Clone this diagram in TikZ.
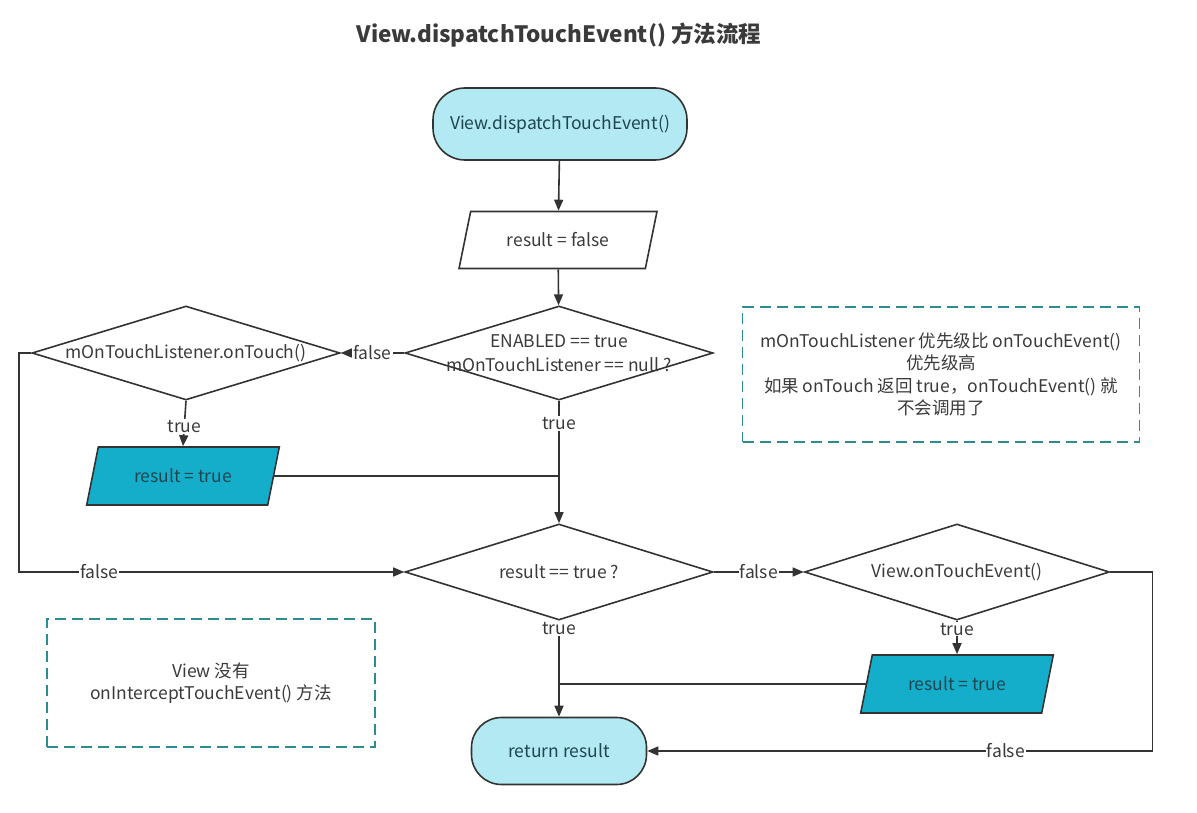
\documentclass[tikz,border=0pt]{standalone}
\usepackage{fontspec}
\setmainfont{Noto Sans CJK SC}
\usetikzlibrary{shapes.geometric,arrows.meta}
\definecolor{lightc}{HTML}{B3E9F2}
\definecolor{darkc}{HTML}{14AECA}
\definecolor{edge}{HTML}{333333}
\definecolor{dashc}{HTML}{2E8B92}
\definecolor{txt}{HTML}{3A3A3A}
\definecolor{ttxt}{HTML}{1E4650}
\begin{document}
\begin{tikzpicture}[x=1pt,y=-1pt,
 font=\fontsize{17.5}{21}\selectfont,
 every node/.style={text=txt},
 term/.style={draw=edge, line width=1.6pt, fill=lightc, rounded corners=32pt, text=ttxt},
 para/.style={trapezium, trapezium stretches=true, trapezium left angle=71, trapezium right angle=109, draw=edge, line width=1.6pt},
 dia/.style={diamond, draw=edge, line width=1.6pt, inner sep=0pt},
 note/.style={draw=dashc, line width=1.6pt, dash pattern=on 11pt off 6pt, align=center, font=\fontsize{17.5}{22.5}\selectfont},
 conn/.style={draw=edge, line width=1.6pt, -{Triangle[length=11pt,width=9pt]}},
 plain/.style={draw=edge, line width=1.6pt},
 lbl/.style={fill=white, inner sep=1pt, text=txt}
]
\useasboundingbox (0,0) rectangle (1197,813);
\node[font=\fontsize{22.5}{26}\selectfont\bfseries] (title) at (559,35) {View.dispatchTouchEvent() 方法流程};

\node[term, minimum width=254pt, minimum height=72pt] (start) at (560,124) {View.dispatchTouchEvent()};
\node[para, minimum width=198pt, minimum height=57pt] (rf) at (558,240) {result = false};
\node[dia, minimum width=308pt, minimum height=94pt,
  label={[align=center, font=\fontsize{17.5}{24}\selectfont]center:ENABLED == true\\mOnTouchListener == null ?}] (d1) at (559,353) {};
\node[dia, minimum width=308pt, minimum height=94pt,
  label={center:mOnTouchListener.onTouch()}] (d2) at (186,353) {};
\node[para, fill=darkc, text=ttxt, minimum width=193pt, minimum height=58pt] (rt1) at (183,476) {result = true};
\node[dia, minimum width=308pt, minimum height=96pt,
  label={center:result == true ?}] (d3) at (559,572) {};
\node[dia, minimum width=305pt, minimum height=96pt,
  label={center:View.onTouchEvent()}] (d4) at (957,572) {};
\node[para, fill=darkc, text=ttxt, minimum width=193pt, minimum height=58pt] (rt2) at (957,684) {result = true};
\node[term, rounded corners=30pt, minimum width=175pt, minimum height=67pt] (ret) at (559,751) {return result};

\node[note, minimum width=397pt, minimum height=135pt] (n1) at (941,374.5)
 {mOnTouchListener 优先级比 onTouchEvent()\\优先级高\\如果 onTouch 返回 true，onTouchEvent() 就\\不会调用了};
\node[note, minimum width=328pt, minimum height=128pt] (n2) at (211,683)
 {View 没有\\onInterceptTouchEvent() 方法};

\draw[conn] (start) -- (rf);
\draw[conn] (rf) -- (d1);
\draw[conn] (d1.west) -- node[lbl]{false} (d2.east);
\draw[conn] (d2.south) -- node[lbl,pos=0.57]{true} (rt1.north);
\draw[conn] (d1.south) -- node[lbl,pos=0.185]{true} (d3.north);
\draw[plain] (rt1.east) -- (rt1.east -| d1.south);
\draw[conn] (d2.west) -- ++(-12,0) |- node[lbl,pos=0.604]{false} (d3.west);
\draw[conn] (d3.east) -- node[lbl]{false} (d4.west);
\draw[conn] (d4.south) -- node[lbl,pos=0.25]{true} (rt2.north);
\draw[conn] (d3.south) -- node[lbl,pos=0.08]{true} (ret.north);
\draw[plain] (rt2.west) -- (rt2.west -| d3.south);
\draw[conn] (d4.east) -- ++(42,0) |- node[lbl,pos=0.645]{false} (ret.east);
\end{tikzpicture}
\end{document}
